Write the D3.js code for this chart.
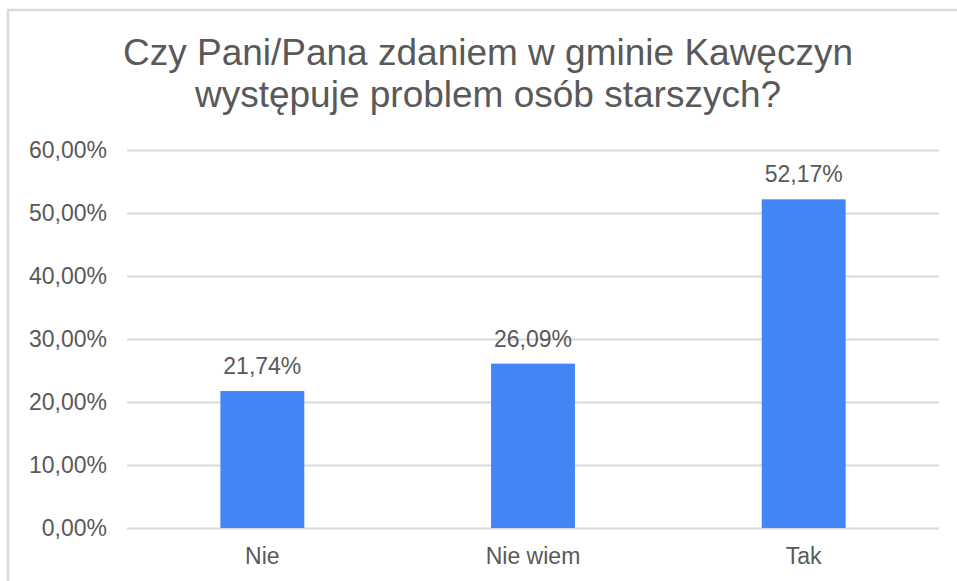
<!DOCTYPE html>
<html>
<head>
<meta charset="utf-8">
<script src="https://cdn.jsdelivr.net/npm/d3@7"></script>
<style>
  html, body { margin: 0; padding: 0; background: #ffffff; }
  svg { display: block; }
  text { font-family: "Liberation Sans", Arial, sans-serif; }
</style>
</head>
<body>
<svg id="chart" width="957" height="581"></svg>
<script>
// Survey answers and their shares (percent)
const categories = ["Nie", "Nie wiem", "Tak"];
const values = [21.74, 26.09, 52.17];
const yTicks = [0, 10, 20, 30, 40, 50, 60];
const titleLines = ["Czy Pani/Pana zdaniem w gminie Kawęczyn", "występuje problem osób starszych?"];

const width = 957, height = 581;
const margin = { top: 150, right: 18, bottom: 53, left: 127 };
const textColor = "#595959";
const gridColor = "#d9d9d9";
const barColor = "#4285f4";

const svg = d3.select("#chart");

// Frame around the chart area
svg.append("rect")
  .attr("x", 8).attr("y", 10)
  .attr("width", width + 10).attr("height", height + 10)
  .attr("fill", "#ffffff")
  .attr("stroke", gridColor)
  .attr("stroke-width", 2.5);

const fmt = v => v.toFixed(2).replace(".", ",") + "%";

const x = d3.scaleBand()
  .domain(categories)
  .range([margin.left, width - margin.right])
  .paddingInner(0.69)
  .paddingOuter(0.345);

const y = d3.scaleLinear()
  .domain([0, 60])
  .range([height - margin.bottom, margin.top]);

// Title
svg.append("text")
  .attr("x", 488).attr("y", 65)
  .attr("text-anchor", "middle")
  .attr("fill", textColor)
  .attr("font-size", 37)
  .selectAll("tspan")
  .data(titleLines)
  .join("tspan")
  .attr("x", 488)
  .attr("dy", (d, i) => i === 0 ? 0 : 42)
  .text(d => d);

// Y axis with gridlines
const yAxis = d3.axisLeft(y)
  .tickValues(yTicks)
  .tickSize(-(width - margin.right - margin.left))
  .tickPadding(20)
  .tickFormat(fmt);

const gy = svg.append("g")
  .attr("transform", `translate(${margin.left},0)`)
  .call(yAxis);
gy.select(".domain").remove();
gy.selectAll(".tick line").attr("stroke", gridColor).attr("stroke-width", 2);
gy.selectAll(".tick text")
  .attr("fill", textColor)
  .attr("font-size", 23)
  .attr("font-family", "Liberation Sans, Arial, sans-serif");

// Bars
svg.append("g")
  .selectAll("rect")
  .data(values)
  .join("rect")
  .attr("x", (d, i) => x(categories[i]))
  .attr("y", d => y(d))
  .attr("width", x.bandwidth())
  .attr("height", d => y(0) - y(d))
  .attr("fill", barColor);

// Value labels
svg.append("g")
  .selectAll("text")
  .data(values)
  .join("text")
  .attr("x", (d, i) => x(categories[i]) + x.bandwidth() / 2)
  .attr("y", d => y(d) - 17)
  .attr("text-anchor", "middle")
  .attr("fill", textColor)
  .attr("font-size", 23)
  .text(d => fmt(d));

// Category axis
const xAxis = d3.axisBottom(x).tickSize(0).tickPadding(20);
const gx = svg.append("g")
  .attr("transform", `translate(0,${y(0)})`)
  .call(xAxis);
gx.select(".domain").remove();
gx.selectAll(".tick text")
  .attr("fill", textColor)
  .attr("font-size", 23)
  .attr("font-family", "Liberation Sans, Arial, sans-serif");
</script>
</body>
</html>
